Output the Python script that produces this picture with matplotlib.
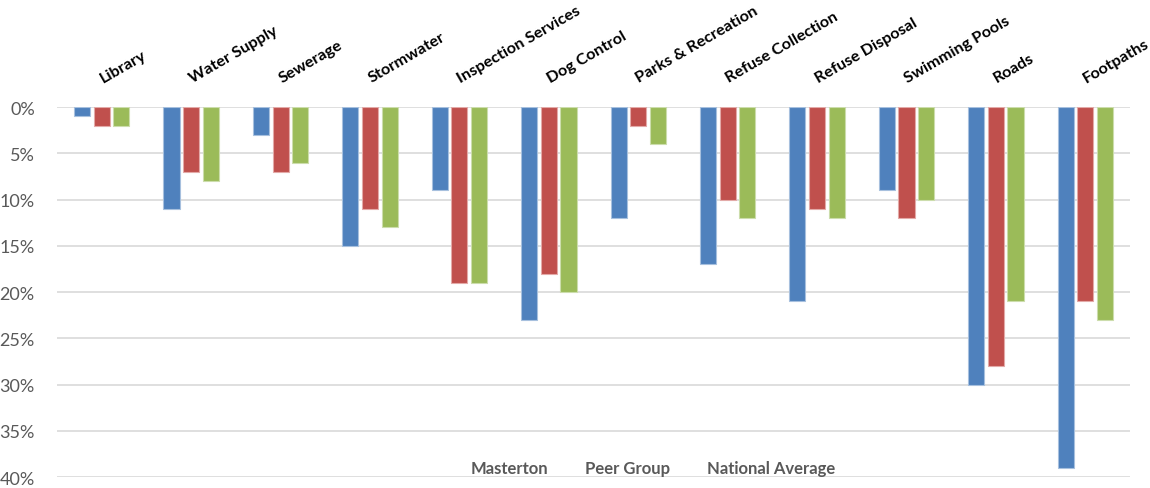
import matplotlib
matplotlib.use("Agg")
import matplotlib.pyplot as plt
from matplotlib.patches import Rectangle
import numpy as np

plt.rcParams["font.family"] = ["Lato", "DejaVu Sans"]

categories = ["Library", "Water Supply", "Sewerage", "Stormwater", "Inspection Services",
              "Dog Control", "Parks & Recreation", "Refuse Collection", "Refuse Disposal",
              "Swimming Pools", "Roads", "Footpaths"]
masterton = [1, 11, 3, 15, 9, 23, 12, 17, 21, 9, 30, 39]
peer_group = [2, 7, 7, 11, 19, 18, 2, 10, 11, 12, 28, 21]
national_avg = [2, 8, 6, 13, 19, 20, 4, 12, 12, 10, 21, 23]

series = [("Masterton", masterton, "#4F81BD", "#A7C0DE"),
          ("Peer Group", peer_group, "#C0504D", "#E3AAA8"),
          ("National Average", national_avg, "#9BBB59", "#CCDDAC")]

fig = plt.figure(figsize=(11.5, 4.89), dpi=100)
ax = fig.add_axes([0.0496, 0.022, 0.9330, 0.757])

x = np.arange(len(categories))
width = 0.18
offsets = [-0.22, 0.0, 0.22]
for (name, vals, color, edge), off in zip(series, offsets):
    ax.bar(x + off, vals, width=width, color=color, edgecolor=edge, linewidth=0.8, zorder=2)

ax.set_xlim(-0.5, len(categories) - 0.5)
ax.set_ylim(40, 0)
ax.set_yticks(np.arange(0, 41, 5))
ax.set_yticklabels([f"{v}%" for v in range(0, 41, 5)], fontsize=13, color="#595959")
ax.tick_params(axis="y", length=0, pad=16)
ax.set_xticks([])
ax.grid(axis="y", color="#D9D9D9", linewidth=1.2, zorder=0)
for s in ax.spines.values():
    s.set_visible(False)

# category names along the top, angled
for xi, name in zip(x, categories):
    ax.annotate(name, xy=(xi, 0), xytext=(2, 16), textcoords="offset points",
                rotation=30, rotation_mode="anchor", ha="left", va="bottom",
                fontsize=11.7, fontweight="bold", color="black", annotation_clip=False)

handles = [Rectangle((0, 0), 1, 1, alpha=0) for _ in series]
fig.legend(handles, [s[0] for s in series], loc="center", bbox_to_anchor=(0.568, 0.04),
           ncol=3, frameon=False, handlelength=0, handletextpad=0, columnspacing=2.2,
           prop={"size": 12, "weight": "bold"}, labelcolor="#595959")

fig.savefig("out.png", dpi=100)
